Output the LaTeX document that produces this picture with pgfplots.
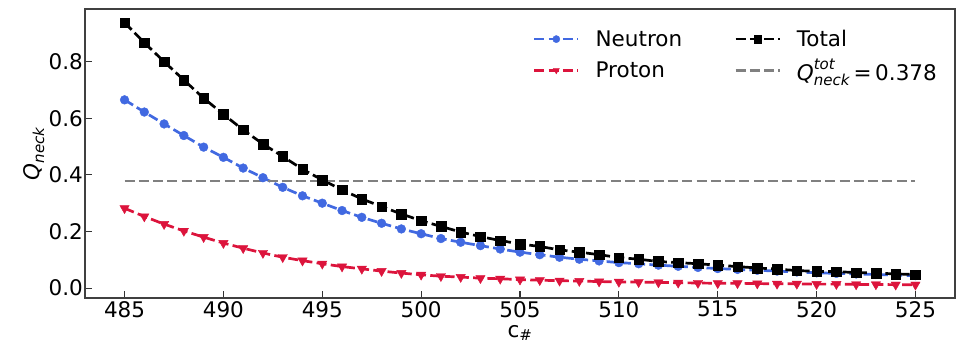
\documentclass[border=0pt]{standalone}
\usepackage{amsmath}
\usepackage{fontspec}
\setmainfont{DejaVu Sans}
\usepackage{pgfplots}
\pgfplotsset{compat=1.18}
\definecolor{nblue}{HTML}{4169E1}
\definecolor{pred}{HTML}{DC143C}
\definecolor{qgray}{HTML}{808080}
\newcommand{\bigf}{\fontsize{21.5}{25}\selectfont}
\begin{document}
\begin{tikzpicture}
\begin{axis}[
  scale only axis, width=870pt, height=289pt,
  xmin=483, xmax=527, ymin=-0.035, ymax=0.986,
  xtick={485,490,...,525}, ytick={0,0.2,0.4,0.6,0.8},
  xtick pos=bottom, ytick pos=left,
  tick align=inside, major tick length=7pt,
  tick style={black!80, line width=1.1pt},
  axis line style={black!75, line width=1.3pt},
  /pgf/number format/assume math mode=true,
  yticklabel style={/pgf/number format/fixed, /pgf/number format/fixed zerofill, /pgf/number format/precision=1, inner sep=2pt},
  xticklabel style={/pgf/number format/1000 sep={}, inner sep=3pt},
  tick label style={font=\bigf},
  label style={font=\bigf},
  xlabel={c\textsubscript{\#}},
  ylabel={\textit{Q}\textsubscript{\textit{neck}}},
  xlabel style={at={(axis description cs:0.5,0)}, anchor=center, yshift=-35pt},
  ylabel style={at={(axis description cs:0,0.5)}, anchor=center, yshift=51pt},
  legend columns=2,
  legend style={draw=none, fill=none, font=\bigf, at={(1,1)}, anchor=north east, xshift=-13pt, yshift=-17pt,
    /tikz/every odd column/.append style={column sep=14pt},
    /tikz/every even column/.append style={column sep=50pt},
    row sep=7pt},
  legend cell align=left,
  legend image code/.code={\draw[#1, mark repeat=2, mark phase=2, mark size=3.6pt] plot coordinates {(0pt,0pt) (22pt,0pt) (44pt,0pt)};},
  every axis plot/.append style={line width=2.7pt, dash pattern=on 10pt off 4.3pt},
]
\addplot[color=nblue, mark=*, mark size=4.4pt, mark options={solid, line width=0.4pt}] coordinates {
(485,0.665)(486,0.622)(487,0.580)(488,0.539)(489,0.498)(490,0.462)(491,0.424)(492,0.390)(493,0.356)(494,0.326)
(495,0.300)(496,0.274)(497,0.250)(498,0.229)(499,0.209)(500,0.192)(501,0.175)(502,0.162)(503,0.150)(504,0.138)
(505,0.127)(506,0.118)(507,0.109)(508,0.102)(509,0.096)(510,0.090)(511,0.086)(512,0.081)(513,0.077)(514,0.073)
(515,0.069)(516,0.066)(517,0.063)(518,0.060)(519,0.057)(520,0.054)(521,0.052)(522,0.050)(523,0.048)(524,0.046)(525,0.044)};
\addlegendentry{Neutron}
\addplot[color=black, mark=square*, mark size=4.8pt, mark options={solid, line width=0.4pt}] coordinates {
(485,0.938)(486,0.867)(487,0.800)(488,0.735)(489,0.671)(490,0.614)(491,0.559)(492,0.509)(493,0.465)(494,0.420)
(495,0.382)(496,0.347)(497,0.315)(498,0.288)(499,0.262)(500,0.238)(501,0.218)(502,0.198)(503,0.182)(504,0.168)
(505,0.156)(506,0.147)(507,0.135)(508,0.127)(509,0.118)(510,0.108)(511,0.102)(512,0.094)(513,0.090)(514,0.086)
(515,0.081)(516,0.076)(517,0.071)(518,0.067)(519,0.062)(520,0.059)(521,0.058)(522,0.055)(523,0.053)(524,0.050)(525,0.048)};
\addlegendentry{Total}
\addplot[color=pred, mark=triangle*, mark size=5.4pt, mark options={solid, rotate=180, line width=0.4pt}] coordinates {
(485,0.282)(486,0.253)(487,0.226)(488,0.202)(489,0.180)(490,0.159)(491,0.141)(492,0.124)(493,0.109)(494,0.097)
(495,0.086)(496,0.076)(497,0.068)(498,0.060)(499,0.053)(500,0.047)(501,0.042)(502,0.039)(503,0.035)(504,0.033)
(505,0.030)(506,0.028)(507,0.026)(508,0.025)(509,0.023)(510,0.022)(511,0.021)(512,0.020)(513,0.019)(514,0.018)
(515,0.017)(516,0.017)(517,0.016)(518,0.015)(519,0.015)(520,0.014)(521,0.014)(522,0.013)(523,0.013)(524,0.012)(525,0.012)};
\addlegendentry{Proton}
\addplot[color=qgray, no marks] coordinates {(485,0.378)(525,0.378)};
\addlegendentry{$\textit{Q}^{\textit{tot}}_{\textit{neck}}\text{\,=\,0.378}$}
\end{axis}
\path (current axis.south west) ++(-85pt,-47pt) coordinate (bbA);
\path (current axis.north east) ++(7pt,9pt) coordinate (bbB);
\path (bbA) rectangle (bbB);
\end{tikzpicture}
\end{document}
